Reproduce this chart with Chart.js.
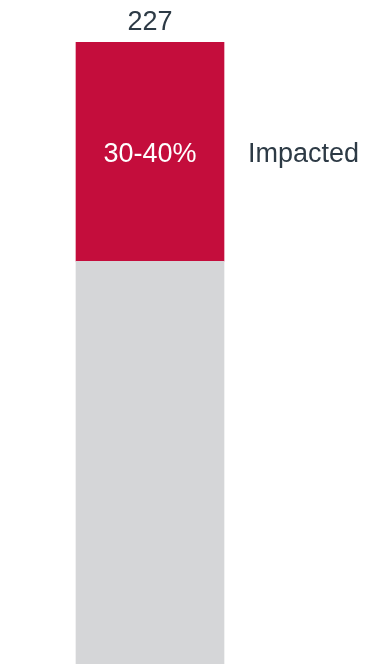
<!DOCTYPE html>
<html>
<head>
<meta charset="utf-8">
<script src="https://cdn.jsdelivr.net/npm/chart.js@4/dist/chart.umd.min.js"></script>
<style>
  html, body { margin: 0; padding: 0; background: #fff; }
  #wrap { width: 365px; height: 664px; position: relative; }
</style>
</head>
<body>
<div id="wrap"><canvas id="chart"></canvas></div>
<script>
const categories = ["Total"];
const otherValues = [147];
const impactedValues = [80];
const shareLabel = "30-40%";
const seriesLabel = "Impacted";

const textColor = "#2d3a45";
const fontFamily = "'Liberation Sans', Arial, sans-serif";

// totals above the bar, share inside the red block, series name to the right
const labelsPlugin = {
  id: "barLabels",
  afterDatasetsDraw(chart) {
    const ctx = chart.ctx;
    const red = chart.getDatasetMeta(1).data[0];
    const total = impactedValues[0] + otherValues[0];

    ctx.save();
    ctx.font = "27px " + fontFamily;
    ctx.textBaseline = "alphabetic";

    ctx.fillStyle = textColor;
    ctx.textAlign = "center";
    ctx.fillText(String(total), red.x, red.y - 12);

    const midY = (red.y + red.base) / 2;
    ctx.textBaseline = "middle";
    ctx.fillStyle = "#ffffff";
    ctx.fillText(shareLabel, red.x, midY + 3);

    ctx.fillStyle = textColor;
    ctx.textAlign = "left";
    ctx.fillText(seriesLabel, red.x + red.width / 2 + 24, midY + 3);
    ctx.restore();
  }
};

new Chart(document.getElementById("chart"), {
  type: "bar",
  data: {
    labels: categories,
    datasets: [
      {
        label: "Other",
        data: otherValues,
        backgroundColor: "#d5d6d8",
        barThickness: 148,
        stack: "s"
      },
      {
        label: seriesLabel,
        data: impactedValues,
        backgroundColor: "#c40d3c",
        barThickness: 148,
        stack: "s"
      }
    ]
  },
  options: {
    responsive: true,
    maintainAspectRatio: false,
    animation: false,
    layout: { padding: { top: 42, right: 65, bottom: 0, left: 0 } },
    plugins: {
      legend: { display: false },
      tooltip: { enabled: false }
    },
    scales: {
      x: { stacked: true, display: false },
      y: {
        stacked: true,
        display: false,
        min: 0,
        max: impactedValues[0] + otherValues[0]
      }
    }
  },
  plugins: [labelsPlugin]
});
</script>
</body>
</html>
